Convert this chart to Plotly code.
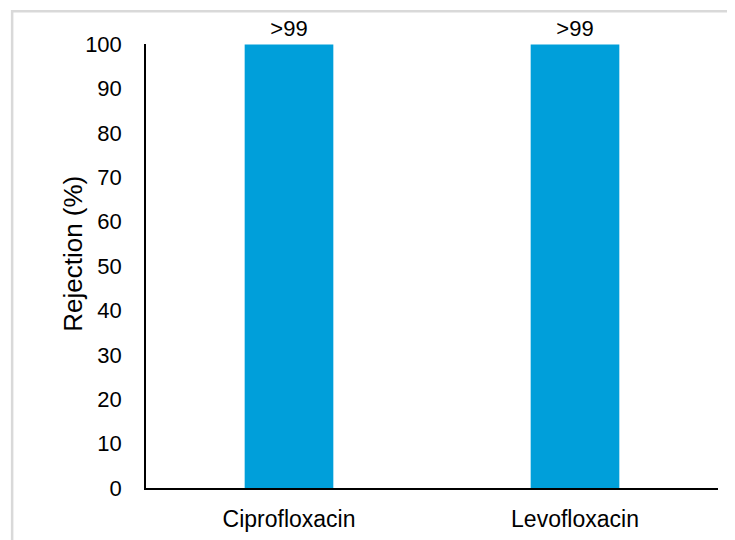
import plotly.graph_objects as go

categories = ["Ciprofloxacin", "Levofloxacin"]
rejection = [99.9, 99.9]
labels = [">99", ">99"]
y_ticks = [0, 10, 20, 30, 40, 50, 60, 70, 80, 90, 100]
y_title = "Rejection (%)"

font = "Liberation Sans, Arial, sans-serif"

fig = go.Figure()
fig.add_trace(go.Bar(
    x=categories, y=rejection, text=labels, textposition="outside",
    texttemplate="%{text}", cliponaxis=False,
    marker=dict(color="#009FDA", line=dict(width=0)),
    textfont=dict(family=font, size=22, color="#000000"),
))

fig.update_layout(
    width=735, height=540,
    margin=dict(l=138, r=25, t=35.5, b=60),
    paper_bgcolor="white", plot_bgcolor="white",
    bargap=0.69, showlegend=False,
    font=dict(family=font, size=22, color="#000000"),
    xaxis=dict(showline=True, linecolor="#000000", linewidth=2, showgrid=False,
               ticks="", tickfont=dict(size=23), ticklabelstandoff=9),
    yaxis=dict(range=[0, 100], tickvals=y_ticks, showline=True, linecolor="#000000",
               linewidth=1.5, showgrid=False, ticks="", zeroline=False,
               tickfont=dict(size=22), ticklabelstandoff=18),
    annotations=[dict(text=y_title, textangle=-90, xref="paper", yref="paper",
                      x=-0.129, y=0.528, xanchor="center", yanchor="middle",
                      showarrow=False, font=dict(family=font, size=26, color="#000000"))],
    shapes=[dict(type="rect", xref="paper", yref="paper",
                 x0=-0.234, x1=1.2, y0=-0.3, y1=1.074,
                 line=dict(color="#d9d9d9", width=2.5), layer="below")],
)

fig.write_html("out.html")
